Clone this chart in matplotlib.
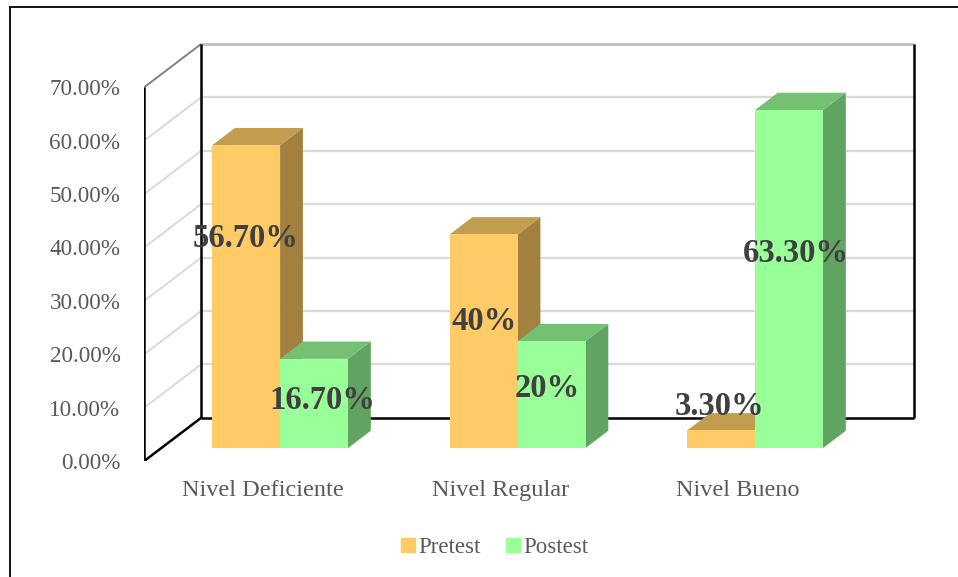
#!/usr/bin/env python3

import matplotlib.pyplot as plt
from matplotlib.lines import Line2D

# ============================================================
# DATA
# ============================================================

categories = ["Nivel Deficiente", "Nivel Regular", "Nivel Bueno"]
pretest = [56.7, 40.0, 3.3]
postest = [16.7, 20.0, 63.3]
pretest_labels = ["56.70%", "40%", "3.30%"]
postest_labels = ["16.70%", "20%", "63.30%"]
y_ticks = [0, 10, 20, 30, 40, 50, 60, 70]
series_names = ["Pretest", "Postest"]

# ============================================================
# STYLE / LAYOUT
# ============================================================

plt.rcParams["font.family"] = ["Liberation Serif", "DejaVu Serif"]

W, H = 958, 577
PX_X = 237.5          # pixels per category unit
PX_Y = 5.34           # pixels per percent
DX, DY = 0.24, 8.1    # oblique offset of one unit of depth (data units)
BAR_W = 0.286
D0, D1 = 0.3, 0.7     # depth span of the bars

orange = {"front": "#FECB66", "top": "#C29C4F", "side": "#A3803F"}
green = {"front": "#99FF99", "top": "#74C174", "side": "#61A461"}
text_gray = "#595959"
label_gray = "#404040"

# label nudges in pixels (x, y)
pre_nudge = [(-1, 28), (0, -2), (-2, 31)]
post_nudge = [(8, -6), (-4, -5), (7, -8)]


def proj(x, v, d):
    """Oblique projection of (category, value, depth) onto the axes."""
    return x + d * DX, v + d * DY


def line3d(ax, p, q, **kw):
    a = proj(*p)
    b = proj(*q)
    ax.plot([a[0], b[0]], [a[1], b[1]], solid_capstyle="butt", **kw)


def bar3d(ax, x0, value, colors):
    x1 = x0 + BAR_W
    faces = [
        ([(x1, 0, D0), (x1, 0, D1), (x1, value, D1), (x1, value, D0)], colors["side"]),
        ([(x0, value, D0), (x1, value, D0), (x1, value, D1), (x0, value, D1)], colors["top"]),
        ([(x0, 0, D0), (x1, 0, D0), (x1, value, D0), (x0, value, D0)], colors["front"]),
    ]
    for pts, c in faces:
        xs, ys = zip(*[proj(*p) for p in pts])
        ax.fill(xs, ys, color=c, linewidth=0, zorder=3)


# ============================================================
# FIGURE
# ============================================================

fig = plt.figure(figsize=(W / 100, H / 100), dpi=100)
ax = fig.add_axes([144 / W, (H - 461) / H, (916 - 144) / W, (461 - 43) / H])
ax.set_xlim(-0.501, -0.501 + (916 - 144) / PX_X)
ax.set_ylim(0, (461 - 43) / PX_Y)
ax.set_facecolor("none")
for s in ax.spines.values():
    s.set_visible(False)

x_lo, x_hi = -0.5, len(categories) - 0.5
top = y_ticks[-1]

# walls: gridlines
for t in y_ticks[1:]:
    c, lw = ("#d9d9d9", 1.6) if t != top else ("#bfbfbf", 2.0)
    line3d(ax, (x_lo, t, 1), (x_hi, t, 1), color=c, lw=lw, zorder=1)
    c_side = "#d9d9d9" if t != top else "#808080"
    line3d(ax, (x_lo, t, 0), (x_lo, t, 1), color=c_side, lw=1.4, zorder=1)

# walls: axis edges
edge = dict(color="black", lw=1.8, zorder=2)
line3d(ax, (x_lo, 0, 0), (x_lo, top, 0), **edge)
line3d(ax, (x_lo, 0, 1), (x_lo, top, 1), **edge)
line3d(ax, (x_lo, 0, 0), (x_lo, 0, 1), **edge)
line3d(ax, (x_lo, 0, 1), (x_hi, 0, 1), **edge)
line3d(ax, (x_hi, 0, 1), (x_hi, top, 1), **edge)

# bars
for i in range(len(categories)):
    bar3d(ax, i - BAR_W, pretest[i], orange)
    bar3d(ax, i, postest[i], green)

# data labels
for i in range(len(categories)):
    for vals, labs, nudge, x0 in ((pretest, pretest_labels, pre_nudge, i - BAR_W),
                                  (postest, postest_labels, post_nudge, i)):
        ax.annotate(labs[i], xy=proj(x0 + BAR_W / 2, vals[i] * 0.6, D0),
                    xytext=nudge[i], textcoords="offset pixels",
                    ha="center", va="center", fontsize=23.5,
                    fontweight="bold", color=label_gray, zorder=5)

# axes ticks
ax.set_yticks(y_ticks)
ax.set_yticklabels([f"{t:.2f}%" for t in y_ticks])
ax.set_xticks(range(len(categories)))
ax.set_xticklabels(categories)
ax.tick_params(axis="y", length=0, pad=17, labelsize=16.7, labelcolor=text_gray)
ax.tick_params(axis="x", length=0, pad=13.5, labelsize=17.5, labelcolor=text_gray)

# legend
handles = [
    Line2D([], [], marker="s", ls="", color=orange["front"], markersize=9.5),
    Line2D([], [], marker="s", ls="", color=green["front"], markersize=9.5),
]
leg = fig.legend(handles, series_names, loc="center", ncol=2,
                 bbox_to_anchor=(495 / W, 1 - 547 / H), frameon=False,
                 fontsize=16.5, handlelength=0.6, handletextpad=0.15,
                 columnspacing=1.1, labelcolor=text_gray)

# outer chart border (left and top visible)
fig.add_artist(Line2D([10 / W, 10 / W], [0, 1 - 7 / H], color="black", lw=1.3))
fig.add_artist(Line2D([10 / W, 1], [1 - 7 / H, 1 - 7 / H], color="black", lw=1.3))

fig.savefig("out.png", dpi=100)
